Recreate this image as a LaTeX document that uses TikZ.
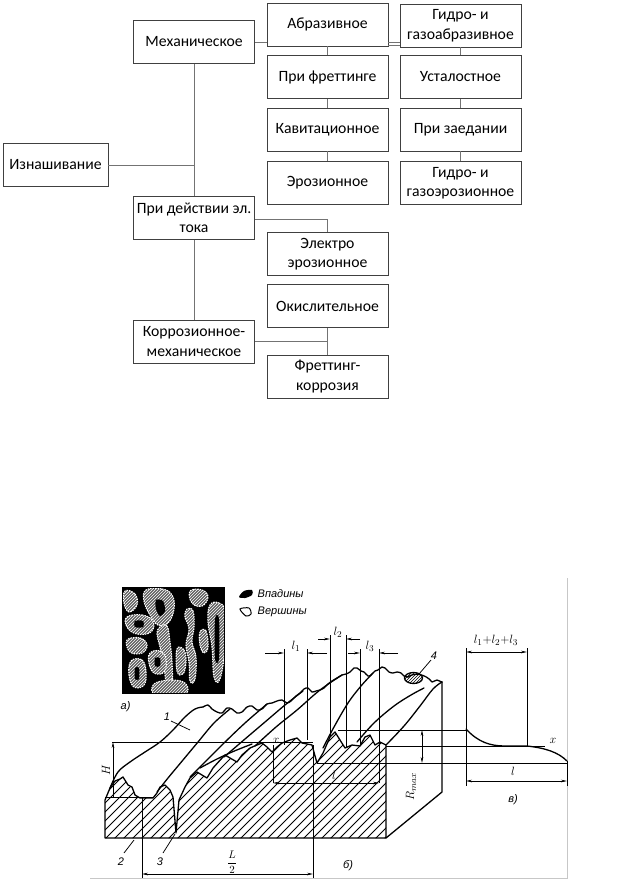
\documentclass[tikz,border=0pt]{standalone}
\usepackage{fontspec}
\setmainfont{Carlito}
\newfontfamily\figfont{Liberation Sans}
\usetikzlibrary{arrows.meta,patterns,calc}
\begin{document}
\begin{tikzpicture}[x=1pt,y=-1pt,
  box/.style={draw=black!75, line width=0.8pt, minimum width=121pt, minimum height=43pt, inner sep=0.5pt, align=center, font=\fontsize{15.7}{19.5}\selectfont},
  conn/.style={draw=black!55, line width=0.8pt},
  fig/.style={line width=1.3pt, line join=round, line cap=round},
  thn/.style={line width=0.75pt},
  lab/.style={font=\figfont\itshape\fontsize{11}{12}\selectfont, inner sep=0.5pt},
  mlab/.style={font=\fontsize{13}{15}\selectfont, inner sep=0.5pt},
  dim/.style={thn, -{Stealth[length=6pt,width=2.6pt]}},
  dimb/.style={thn, {Stealth[length=6pt,width=2.6pt]}-{Stealth[length=6pt,width=2.6pt]}},
  blob/.style={pattern=north east lines, pattern color=white}
]
\useasboundingbox (0,0) rectangle (624,880);
\fill[white] (0,0) rectangle (624,880);

% ---------------- top classification diagram ----------------
\node[box] (mech) at (194,42) {Механическое};
\node[box] (abr) at (327.5,24.5) {Абразивное};
\node[box] (gid1) at (460.5,25.5) {Гидро- и\\газоабразивное};
\node[box] (fret) at (327.5,77) {При фреттинге};
\node[box] (ust) at (460.5,77) {Усталостное};
\node[box] (kav) at (327.5,129.5) {Кавитационное};
\node[box] (zaed) at (460.5,129.5) {При заедании};
\node[box] (eroz) at (327.5,183) {Эрозионное};
\node[box] (gid2) at (460.5,183) {Гидро- и\\газоэрозионное};
\node[box, minimum width=105pt] (izn) at (55.5,165) {Изнашивание};
\node[box] (tok) at (194,218) {При действии эл.\\тока};
\node[box] (elek) at (327.5,254) {Электро\\эрозионное};
\node[box] (okis) at (327.5,306) {Окислительное};
\node[box] (korr) at (194,341.5) {Коррозионное-\\механическое};
\node[box] (frk) at (327.5,376.5) {Фреттинг-\\коррозия};

\draw[conn] (mech.south) -- (tok.north);
\draw[conn] (tok.south) -- (korr.north);
\draw[conn] (izn.east) -- (izn.east -| mech.south);
\draw[conn] (mech.east) -- (mech.east -| abr.west);
\draw[conn] (abr.east |- mech.east) -- (gid1.west |- mech.east);
\draw[conn] ($(abr.east |- mech.east)+(0,3)$) -- ($(gid1.west |- mech.east)+(0,3)$);
\draw[conn] (abr.south) -- (fret.north);
\draw[conn] (fret.south) -- (kav.north);
\draw[conn] (kav.south) -- (eroz.north);
\draw[conn] (gid1.south) -- (ust.north);
\draw[conn] (ust.south) -- (zaed.north);
\draw[conn] (zaed.south) -- (gid2.north);
\draw[conn] ($(tok.east)+(0,1)$) -| (elek.north);
\draw[conn] (korr.east) -- (korr.east -| okis.south);
\draw[conn] (okis.south) -- (frk.north);

% ---------------- bottom figure ----------------
\draw[black!22, line width=0.8pt] (90,878) -- (567,878) -- (567,578);

% (a) texture square
\begin{scope}[shift={(122,587)}]
  \fill[black] (0,0) rectangle (102,106);
  \begin{scope}
  \clip (0,0) rectangle (102,106);
  \foreach \c in {
    {(3,4) (13,7) (15,18) (7,25) (2,16)},
    {(24,3) (40,2) (50,8) (52,22) (46,36) (36,38) (28,28) (22,14)},
    {(38,40) (45,39) (48,55) (50,75) (50,98) (45,101) (42,80) (38,60) (35,47)},
    {(65,22) (71,24) (72,40) (70,55) (74,70) (73,92) (68,94) (67,75) (64,58) (67,42) (63,30)},
    {(68,4) (80,3) (86,10) (80,19) (70,16)},
    {(88,18) (97,16) (103,25) (103,60) (98,92) (92,90) (90,60) (86,35)},
    {(5,30) (20,28) (31,34) (29,45) (15,47) (5,40)},
    {(5,53) (18,51) (25,58) (20,66) (8,65)},
    {(9,74) (20,73) (24,85) (22,98) (12,100) (7,88)},
    {(28,66) (38,64) (44,72) (42,85) (32,86) (27,76)},
    {(55,62) (62,63) (64,75) (61,87) (55,84)},
    {(32,97) (50,93) (64,97) (62,108) (34,108)},
    {(78,45) (84,44) (86,60) (82,66) (78,58)}} {
    \fill[black!62] plot[smooth cycle, tension=0.7] coordinates \c;
    \fill[blob] plot[smooth cycle, tension=0.7] coordinates \c;
    \draw[white, line width=1.1pt, dash pattern=on 1.5pt off 1pt] plot[smooth cycle, tension=0.7] coordinates \c;
  }
  \fill[black] plot[smooth cycle] coordinates {(34,13) (41,14) (43,24) (38,29) (34,22)};
  \fill[black] plot[smooth cycle] coordinates {(13,34) (21,34) (21,40) (13,40)};
  \fill[black] plot[smooth cycle] coordinates {(13,81) (17,81) (17,92) (13,92)};
  \fill[black] plot[smooth cycle] coordinates {(33,71) (38,71) (38,79) (33,79)};
  \fill[black] plot[smooth cycle] coordinates {(93,32) (97,32) (97,72) (93,72)};
  \end{scope}
  \draw[line width=0.8pt] (0,0) rectangle (102,106);
\end{scope}
\node[lab, anchor=west] (la) at (120,707) {а)};

% legend
\fill[black] plot[smooth cycle] coordinates {(239,597) (244,591) (252,590) (252,595) (245,598)};
\draw[line width=1pt] plot[smooth cycle] coordinates {(240,609) (249,608) (251,614) (246,616)};
\node[lab, anchor=west] (lv) at (257,594) {Впадины};
\node[lab, anchor=west] (lw) at (257,612) {Вершины};

% (б) block: front face
\def\frontface{(105,838) -- (105,800) -- (110,788) -- (115,781) -- (120,779) -- (123,777) -- (128,785) -- (132,787) -- (135,795) -- (140,798) -- (153,798) -- (157,793) -- (160,787) -- (165,785) -- (170,790) -- (173,797) -- (176,833) -- (179,800) -- (185,787) -- (190,778) -- (197,772) -- (202,775) -- (207,778) -- (213,768) -- (222,758) -- (225,755) -- (230,758) -- (237,762) -- (242,755) -- (250,748) -- (257,745) -- (262,743) -- (267,747) -- (272,752) -- (277,747) -- (282,743) -- (290,740) -- (297,738) -- (302,743) -- (312,745) -- (317,763) -- (323,753) -- (330,737) -- (335,732) -- (340,740) -- (345,748) -- (352,745) -- (360,746) -- (365,737) -- (370,735) -- (375,745) -- (380,742) -- (386,745) -- (386,838) -- cycle}
\begin{scope}
  \clip \frontface;
  \foreach \i in {0,...,52} \draw[thn] (0+\i*9,845) -- ++(120,-120);
\end{scope}
\draw[fig] \frontface;

% right face
\draw[fig] (386,838) -- (442,792) -- (442,682);

% back profile
\draw[fig] plot[smooth, tension=0.5] coordinates {(203,707) (208,705) (212,709) (217,712) (222,713) (227,708) (232,709) (237,713) (242,712) (247,707) (252,706) (257,710) (262,709) (267,704) (272,703) (277,701) (282,700) (287,703) (291,701) (296,696) (300,693) (304,689) (308,688) (312,692) (316,691) (320,690) (324,688) (328,684) (332,681) (337,678) (342,675) (346,674) (350,672) (354,668) (357,668) (361,671) (364,672) (368,676) (371,675) (375,671) (378,670) (382,667) (385,668) (389,672) (393,673) (397,672) (401,673) (404,676) (408,677)};
\draw[fig] (408,677) .. controls (414,672) and (426,674) .. (432,682) -- (437,680) -- (442,682);
\fill[pattern=north east lines, pattern color=black] (413.5,678) ellipse (9 and 5.5);
\draw[fig] (413.5,678) ellipse (9 and 5.5);

% ridges
\draw[fig] plot[smooth, tension=0.6] coordinates {(110,788) (118,772) (130,762) (145,752) (160,742) (173,730) (185,717) (195,709) (203,707)};
\draw[fig] plot[smooth, tension=0.6] coordinates {(157,792) (168,778) (183,760) (198,742) (214,723) (230,709)};
\draw[fig] plot[smooth, tension=0.6] coordinates {(190,777) (205,762) (223,744) (245,723) (267,704)};
\draw[fig] plot[smooth, tension=0.6] coordinates {(224,757) (245,739) (265,722) (285,705) (303,691)};
\draw[fig] plot[smooth, tension=0.6] coordinates {(255,746) (276,727) (297,710) (320,690) (342,675)};
\draw[fig] plot[smooth, tension=0.6] coordinates {(323,748) (334,727) (348,703) (361,686) (373,673)};
\draw[fig] plot[smooth, tension=0.6] coordinates {(357,742) (374,723) (394,706) (411,695) (424,688)};
\draw[fig] plot[smooth, tension=0.6] coordinates {(386,745) (404,726) (420,706) (433,689) (442,682)};
\draw[fig] plot[smooth, tension=0.6] coordinates {(200,768) (215,760) (232,752) (252,744)};

% auxiliary lines
\draw[thn] (105,797) -- (153,797);
\draw[thn] (112,742) -- (313,742);
\draw[thn] (273,745) -- (273,783);
\draw[thn] (142,797) -- (142,878);
\draw[thn] (313,745) -- (313,878);
\draw[thn] (338,730) -- (466,730);
\draw[thn] (386,746) -- (545,746);
\draw[thn] (317,763) -- (567,763);

% extension lines for l1 l2 l3
\draw[thn] (284,649) -- (284,745);
\draw[thn] (307,649) -- (307,740);
\draw[thn] (330,635) -- (330,737);
\draw[thn] (346,635) -- (346,748);
\draw[thn] (360,649) -- (360,746);
\draw[thn] (379,649) -- (379,783);

% dimensions
\draw[dim] (265,653) -- (284,653);
\draw[dim] (327,653) -- (307,653);
\draw[dim] (318,639) -- (330,639);
\draw[dim] (360,639) -- (346,639);
\draw[dim] (348,653) -- (360,653);
\draw[dim] (398,653) -- (379,653);
\draw[dimb] (273,783) -- (379,783);
\draw[dim] (113,797) -- (113,742);
\draw[dimb] (142,874) -- (313,874);
\draw[dimb] (422,730) -- (422,763);

% labels block
\node[mlab] (tl1) at (296,646) {$l_1$};
\node[mlab] (tl2) at (338,632) {$l_2$};
\node[mlab] (tl3) at (370,646) {$l_3$};
\node[mlab] (tL) at (334,775) {$l$};
\node[mlab, rotate=90] (tH) at (106,770) {$H$};
\node[mlab, rotate=90] (tR) at (411,787) {$R_{max}$};
\node[mlab, font=\fontsize{11}{13}\selectfont] (tL2) at (232,862) {$\displaystyle\frac{L}{2}$};
\node[mlab] (tx1) at (276,741) {$x$};
\node[lab] (n1) at (167,717) {1};
\draw[thn] (171,721) -- (190,730);
\node[lab] (n2) at (121,862) {2};
\draw[thn] (124,853) -- (134,840);
\node[lab] (n3) at (160,862) {3};
\draw[thn] (163,853) -- (175,834);
\node[lab] (n4) at (434,656) {4};
\draw[thn] (431,660) -- (419,674);
\node[lab] (nb) at (348,866) {б)};

% (в) graph
\draw[thn] (466,648) -- (466,786);
\draw[thn] (527,648) -- (527,746);
\draw[thn] (567,761) -- (567,786);
\draw[fig] (466,729) .. controls (478,742) and (490,746) .. (505,746) -- (527,746) .. controls (545,748) and (558,752) .. (567,761);
\draw[dimb] (466,652) -- (527,652);
\draw[dimb] (466,781) -- (567,781);
\node[mlab] (tsum) at (496,640) {$l_1{+}l_2{+}l_3$};
\node[mlab] (tl) at (513,771) {$l$};
\node[mlab] (tx2) at (553,741) {$x$};
\node[lab] (nv) at (513,800) {в)};
\end{tikzpicture}
\end{document}
